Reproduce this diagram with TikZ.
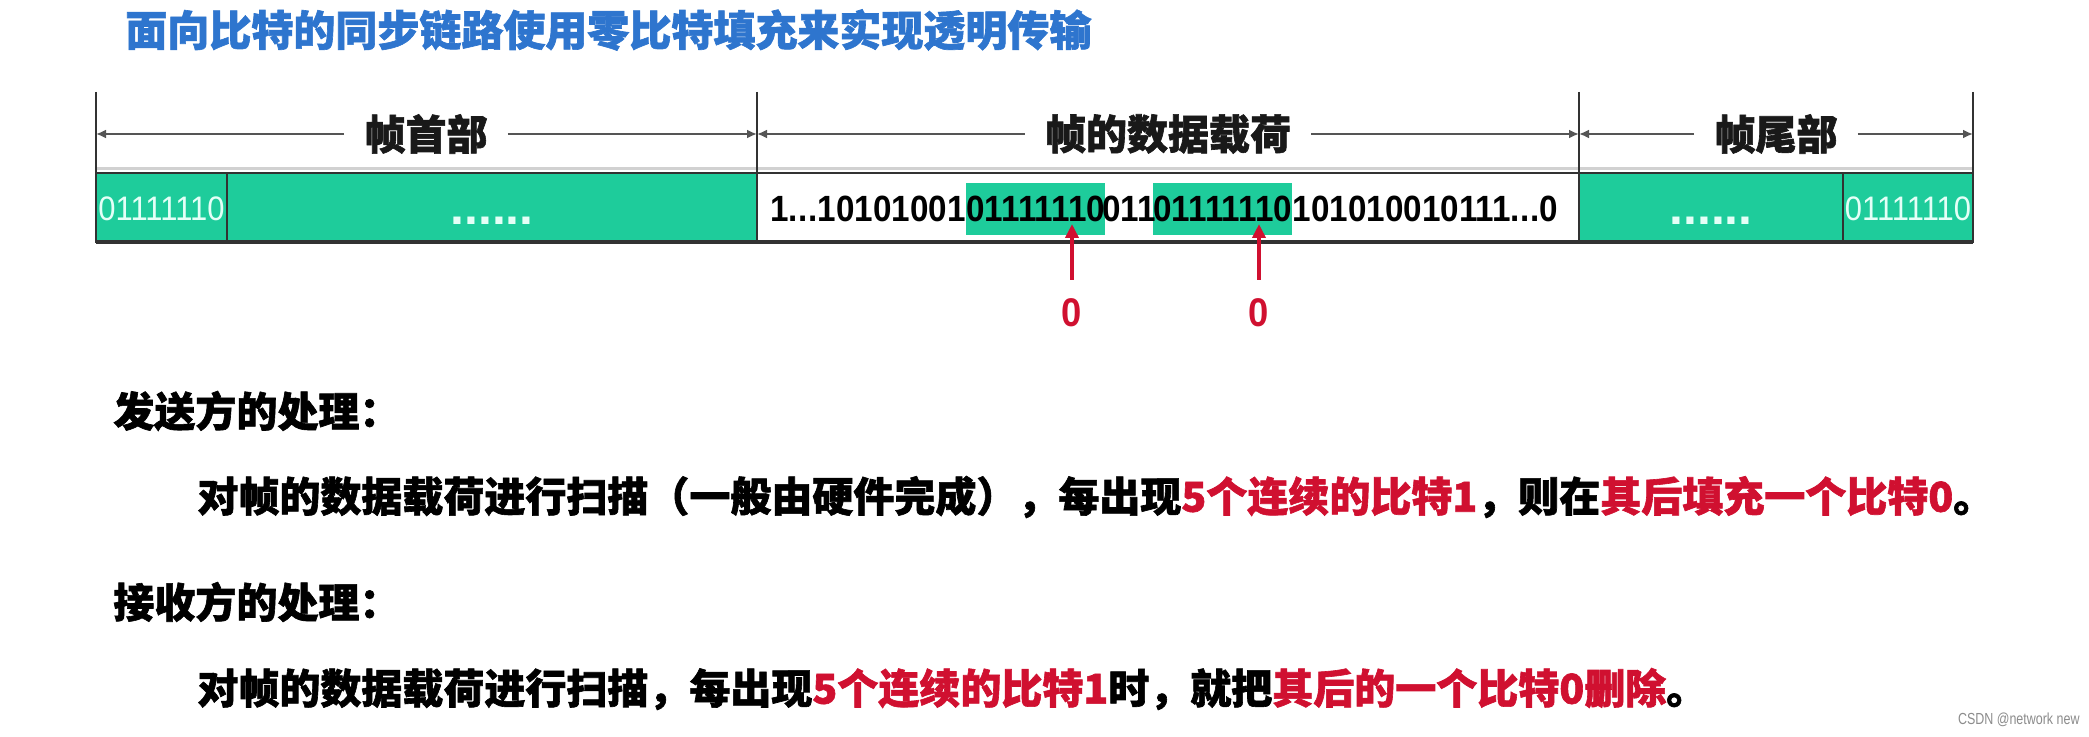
\documentclass[tikz,border=0pt]{standalone}
\usepackage{fontspec}
\newfontfamily\cjk[BoldFeatures={FakeBold=1.5}]{Noto Sans CJK SC}
\newfontfamily\numf[FakeStretch=0.91]{Liberation Sans}
\newfontfamily\dotf{Liberation Sans}
\newfontfamily\wmf[FakeStretch=0.78]{Liberation Sans}
\usetikzlibrary{arrows.meta,calc}
\definecolor{tealg}{RGB}{30,204,155}
\definecolor{redt}{RGB}{208,16,48}
\definecolor{bluet}{RGB}{46,117,206}
\definecolor{framec}{RGB}{50,50,50}
\definecolor{dimc}{RGB}{85,85,85}
\definecolor{cellw}{RGB}{228,255,247}
\newcommand{\myellip}{.\kern0.2pt.\kern0.2pt.\kern0.2pt}
\begin{document}
\begin{tikzpicture}[x=0.5pt,y=-0.5pt,
  cjkb/.style={font=\cjk\bfseries\fontsize{20.5pt}{24pt}\selectfont, inner sep=0pt},
  titletext/.style={font=\cjk\bfseries\fontsize{21pt}{25pt}\selectfont, text=bluet, inner sep=0pt, anchor=west},
  dimlabel/.style={cjkb, inner xsep=10pt, inner ysep=0pt, text=black!90},
  dimline/.style={draw=dimc, line width=1.3pt, -{Latex[length=5pt,width=4.5pt]}},
  vline/.style={draw=framec, line width=1pt},
  datatext/.style={font=\numf\bfseries\fontsize{18.25pt}{20pt}\selectfont, inner sep=0pt, text=black},
  greenbit/.style={datatext, fill=tealg, inner xsep=0pt, inner ysep=0pt, minimum height=26pt, anchor=west},
  celltext/.style={font=\numf\fontsize{17pt}{19pt}\selectfont, text=cellw, inner sep=0pt},
  dotstext/.style={font=\dotf\bfseries\fontsize{25pt}{27pt}\selectfont, text=cellw, inner sep=0pt, anchor=base},
  zerotext/.style={font=\numf\bfseries\fontsize{20pt}{22pt}\selectfont, text=redt, inner sep=0pt},
  redarrow/.style={draw=redt, line width=1.8pt, -{Triangle[length=7pt,width=6.5pt]}},
  wm/.style={font=\wmf\fontsize{8pt}{9pt}\selectfont, text=black!45, inner sep=0pt, anchor=east}
]
\useasboundingbox (0,0) rectangle (2089,737);
\fill[white] (0,0) rectangle (2089,737);

% title
\node[titletext] (title) at (125,30) {面向比特的同步链路使用零比特填充来实现透明传输};

% frame cells
\draw[black!18, line width=1.5pt] (96,169) -- (1973,169);
\fill[tealg] (96,173) rectangle (757,242);
\fill[tealg] (1579,173) rectangle (1973,242);
\draw[framec, line width=1.2pt] (96,173) rectangle (1973,242);
\draw[framec, line width=1.8pt] (96,242) -- (1973,242);
\draw[framec, line width=1pt] (227,173) -- (227,242);
\draw[framec, line width=1pt] (1843,173) -- (1843,242);

% vertical boundary lines
\coordinate (v1t) at (96,92);   \coordinate (v1m) at (96,134);
\coordinate (v2t) at (757,92);  \coordinate (v2m) at (757,134);
\coordinate (v3t) at (1579,92); \coordinate (v3m) at (1579,134);
\coordinate (v4t) at (1973,92); \coordinate (v4m) at (1973,134);
\draw[vline] (v1t) -- (96,173);
\draw[vline] (v2t) -- (757,242);
\draw[vline] (v3t) -- (1579,242);
\draw[vline] (v4t) -- (1973,173);

% dimension labels
\node[dimlabel] (L1) at (426,134) {帧首部};
\node[dimlabel] (L2) at (1168,134) {帧的数据载荷};
\node[dimlabel] (L3) at (1776,134) {帧尾部};
\draw[dimline] (L1.west) -- (v1m);
\draw[dimline] (L1.east) -- (v2m);
\draw[dimline] (L2.west) -- (v2m);
\draw[dimline] (L2.east) -- (v3m);
\draw[dimline] (L3.west) -- (v3m);
\draw[dimline] (L3.east) -- (v4m);

% header / trailer cell texts
\node[celltext] (f1) at (161.5,209) {01111110};
\node[dotstext] (d1) at (492,225) {......};
\node[dotstext] (d2) at (1711,225) {......};
\node[celltext] (f2) at (1908,209) {01111110};

% payload bits
\node[greenbit] (g1) at (966,209) {01111110};
\node[greenbit] (g2) at (1153,209) {01111110};
\node[datatext, anchor=base east] (pre) at (g1.base west) {1\myellip10101001};
\node[datatext, anchor=base] (mid) at ($(g1.base east)!0.5!(g2.base west)$) {011};
\node[datatext, anchor=base west] (post) at (g2.base east) {101010010111\myellip0};

% stuffed zeros
\node[zerotext] (z1) at (1072,313) {0};
\node[zerotext] (z2) at (1259,313) {0};
\coordinate (s1) at (1072,280); \coordinate (t1) at (1072,224);
\coordinate (s2) at (1259,280); \coordinate (t2) at (1259,224);
\draw[redarrow] (s1) -- (t1);
\draw[redarrow] (s2) -- (t2);

% explanation text
\node[cjkb, anchor=west] (h1) at (113,411) {发送方的处理：};
\node[cjkb, anchor=west] (p1) at (197,497) {对帧的数据载荷进行扫描（一般由硬件完成），每出现\textcolor{redt}{5个连续的比特1}，则在\textcolor{redt}{其后填充一个比特0}。};
\node[cjkb, anchor=west] (h2) at (113,602) {接收方的处理：};
\node[cjkb, anchor=west] (p2) at (197,689) {对帧的数据载荷进行扫描，每出现\textcolor{redt}{5个连续的比特1}时，就把\textcolor{redt}{其后的一个比特0删除}。};

% watermark
\node[wm] (wmk) at (2080,720) {CSDN @network new};
\end{tikzpicture}
\end{document}
